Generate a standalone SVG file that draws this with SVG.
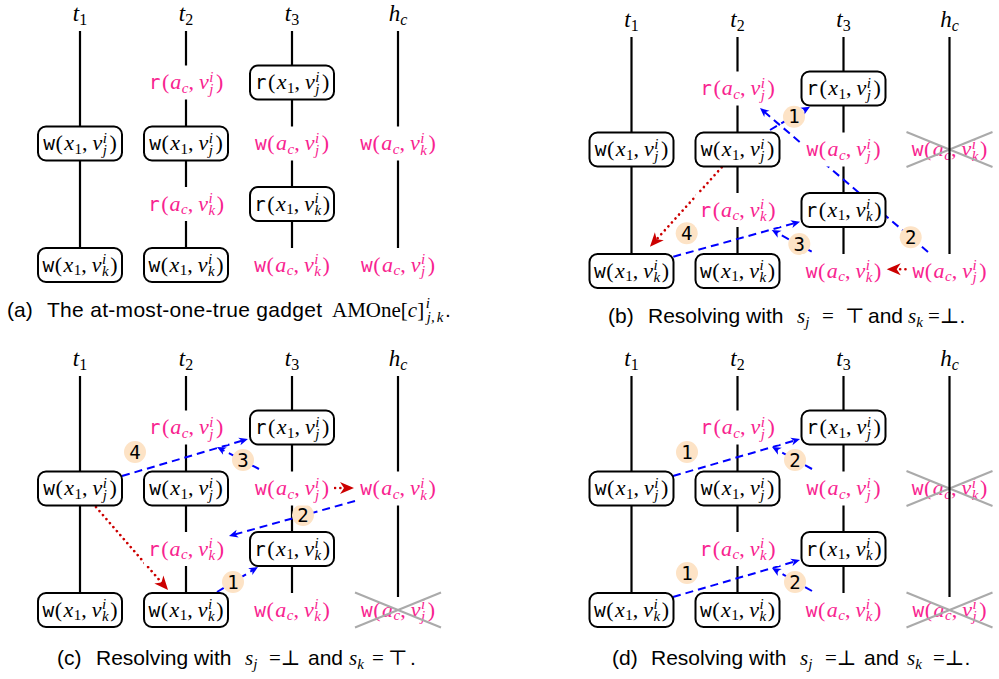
<svg xmlns="http://www.w3.org/2000/svg" width="999" height="679" viewBox="0 0 999 679">
<style>
.tl{stroke:#000;stroke-width:2.2;fill:none}
.bx{fill:#fff;stroke:#000;stroke-width:2}
.bg{fill:#fff}
.lb{font-family:"Liberation Serif","DejaVu Serif",serif;font-size:22px;text-anchor:middle;fill:#000}
.pk{fill:#f8238f}
.tt{font-family:"DejaVu Sans Mono","Liberation Mono",monospace;font-style:normal;font-size:19.5px}
.it{font-style:italic}
.sb{font-size:15px}
.ttl{font-family:"Liberation Serif","DejaVu Serif",serif;font-style:italic;font-size:23px;text-anchor:middle;fill:#000}
.ts{font-size:16px;font-style:normal}
.tsi{font-size:16px}
.bl{stroke:#0000ff;stroke-width:2;stroke-dasharray:8 5;fill:none;marker-end:url(#ab)}
.rd{stroke:#cc0000;stroke-width:2.6;stroke-dasharray:0.1 5.2;stroke-linecap:round;fill:none;marker-end:url(#ar)}
.xx{stroke:#aaa;stroke-width:2}
.nc{fill:#fde3c6}
.nt{font-family:"DejaVu Sans Mono",monospace;font-size:19px;text-anchor:middle;fill:#000}
.cap{font-family:"Liberation Sans",Arial,sans-serif;font-size:21px;fill:#000}
.mr{font-family:"Liberation Serif","DejaVu Serif",serif}
.mi{font-family:"Liberation Serif","DejaVu Serif",serif;font-style:italic}
.cs{font-size:15px}
</style>
<defs>
<marker id="ab" viewBox="-12 -6 14 12" refX="-5" refY="0" markerWidth="14" markerHeight="12" markerUnits="userSpaceOnUse" orient="auto"><path d="M0,0 L-9,-4 L-6.5,0 L-9,4 Z" fill="#0000ff"/></marker>
<marker id="ar" viewBox="-16 -8 18 16" refX="-8" refY="0" markerWidth="18" markerHeight="16" markerUnits="userSpaceOnUse" orient="auto"><path d="M0,0 L-14,-6 L-10,0 L-14,6 Z" fill="#cc0000"/></marker>
</defs>
<rect width="999" height="679" fill="#fff"/>

<!-- ===================== PANEL A ===================== -->
<g id="panel-a">
<g id="a-titles">
<text class="ttl" x="80" y="20.5">t<tspan class="ts" dy="4">1</tspan></text>
<text class="ttl" x="186" y="20.5">t<tspan class="ts" dy="4">2</tspan></text>
<text class="ttl" x="292" y="20.5">t<tspan class="ts" dy="4">3</tspan></text>
<text class="ttl" x="398" y="20.5">h<tspan class="tsi" dy="4">c</tspan></text>
</g>
<g id="a-timelines">
<line class="tl" x1="80" y1="31" x2="80" y2="248"/>
<line class="tl" x1="186" y1="31" x2="186" y2="248"/>
<line class="tl" x1="292" y1="31" x2="292" y2="248"/>
<line class="tl" x1="398" y1="31" x2="398" y2="248"/>
</g>
<g id="a-n-t1-wj"><rect class="bx" x="38" y="126.5" width="84" height="34" rx="8"/><text class="lb" x="80" y="150"><tspan class="tt">w</tspan><tspan dx="0.5">(</tspan><tspan class="it" dx="1.5">x</tspan><tspan class="sb" dx="0.5" dy="3.5">1</tspan><tspan dy="-3.5">,</tspan><tspan class="it" dx="5">v</tspan><tspan class="sb it" dx="0.5" dy="-7.5">i</tspan><tspan class="sb it" dx="-4.2" dy="12">j</tspan><tspan dx="2.5" dy="-4.5">)</tspan></text></g>
<g id="a-n-t1-wk"><rect class="bx" x="38" y="248" width="84" height="34" rx="8"/><text class="lb" x="80" y="271.5"><tspan class="tt">w</tspan><tspan dx="0.5">(</tspan><tspan class="it" dx="1.5">x</tspan><tspan class="sb" dx="0.5" dy="3.5">1</tspan><tspan dy="-3.5">,</tspan><tspan class="it" dx="5">v</tspan><tspan class="sb it" dx="0.5" dy="-7.5">i</tspan><tspan class="sb it" dx="-4.2" dy="12">k</tspan><tspan dx="1.5" dy="-4.5">)</tspan></text></g>
<g id="a-n-t2-raj"><rect class="bg" x="144" y="65.5" width="84" height="34"/><text class="lb pk" x="186" y="89"><tspan class="tt">r</tspan><tspan dx="1.5">(</tspan><tspan class="it" dx="1">a</tspan><tspan class="sb it" dx="0.5" dy="3.5">c</tspan><tspan dy="-3.5">,</tspan><tspan class="it" dx="5">v</tspan><tspan class="sb it" dx="0.5" dy="-7.5">i</tspan><tspan class="sb it" dx="-4.2" dy="12">j</tspan><tspan dx="2.5" dy="-4.5">)</tspan></text></g>
<g id="a-n-t2-wj"><rect class="bx" x="144" y="126.5" width="84" height="34" rx="8"/><text class="lb" x="186" y="150"><tspan class="tt">w</tspan><tspan dx="0.5">(</tspan><tspan class="it" dx="1.5">x</tspan><tspan class="sb" dx="0.5" dy="3.5">1</tspan><tspan dy="-3.5">,</tspan><tspan class="it" dx="5">v</tspan><tspan class="sb it" dx="0.5" dy="-7.5">i</tspan><tspan class="sb it" dx="-4.2" dy="12">j</tspan><tspan dx="2.5" dy="-4.5">)</tspan></text></g>
<g id="a-n-t2-rak"><rect class="bg" x="144" y="187" width="84" height="34"/><text class="lb pk" x="186" y="210.5"><tspan class="tt">r</tspan><tspan dx="1.5">(</tspan><tspan class="it" dx="1">a</tspan><tspan class="sb it" dx="0.5" dy="3.5">c</tspan><tspan dy="-3.5">,</tspan><tspan class="it" dx="5">v</tspan><tspan class="sb it" dx="0.5" dy="-7.5">i</tspan><tspan class="sb it" dx="-4.2" dy="12">k</tspan><tspan dx="1.5" dy="-4.5">)</tspan></text></g>
<g id="a-n-t2-wk"><rect class="bx" x="144" y="248" width="84" height="34" rx="8"/><text class="lb" x="186" y="271.5"><tspan class="tt">w</tspan><tspan dx="0.5">(</tspan><tspan class="it" dx="1.5">x</tspan><tspan class="sb" dx="0.5" dy="3.5">1</tspan><tspan dy="-3.5">,</tspan><tspan class="it" dx="5">v</tspan><tspan class="sb it" dx="0.5" dy="-7.5">i</tspan><tspan class="sb it" dx="-4.2" dy="12">k</tspan><tspan dx="1.5" dy="-4.5">)</tspan></text></g>
<g id="a-n-t3-rj"><rect class="bx" x="250" y="65.5" width="84" height="34" rx="8"/><text class="lb" x="292" y="89"><tspan class="tt">r</tspan><tspan dx="1.5">(</tspan><tspan class="it" dx="1.5">x</tspan><tspan class="sb" dx="0.5" dy="3.5">1</tspan><tspan dy="-3.5">,</tspan><tspan class="it" dx="5">v</tspan><tspan class="sb it" dx="0.5" dy="-7.5">i</tspan><tspan class="sb it" dx="-4.2" dy="12">j</tspan><tspan dx="2.5" dy="-4.5">)</tspan></text></g>
<g id="a-n-t3-waj"><rect class="bg" x="250" y="126.5" width="84" height="34"/><text class="lb pk" x="292" y="150"><tspan class="tt">w</tspan><tspan dx="0.5">(</tspan><tspan class="it" dx="1.5">a</tspan><tspan class="sb it" dx="0.5" dy="3.5">c</tspan><tspan dy="-3.5">,</tspan><tspan class="it" dx="5">v</tspan><tspan class="sb it" dx="0.5" dy="-7.5">i</tspan><tspan class="sb it" dx="-4.2" dy="12">j</tspan><tspan dx="2.5" dy="-4.5">)</tspan></text></g>
<g id="a-n-t3-rk"><rect class="bx" x="250" y="187" width="84" height="34" rx="8"/><text class="lb" x="292" y="210.5"><tspan class="tt">r</tspan><tspan dx="1.5">(</tspan><tspan class="it" dx="1.5">x</tspan><tspan class="sb" dx="0.5" dy="3.5">1</tspan><tspan dy="-3.5">,</tspan><tspan class="it" dx="5">v</tspan><tspan class="sb it" dx="0.5" dy="-7.5">i</tspan><tspan class="sb it" dx="-4.2" dy="12">k</tspan><tspan dx="1.5" dy="-4.5">)</tspan></text></g>
<g id="a-n-t3-wak"><rect class="bg" x="250" y="248" width="84" height="34"/><text class="lb pk" x="292" y="271.5"><tspan class="tt">w</tspan><tspan dx="0.5">(</tspan><tspan class="it" dx="1.5">a</tspan><tspan class="sb it" dx="0.5" dy="3.5">c</tspan><tspan dy="-3.5">,</tspan><tspan class="it" dx="5">v</tspan><tspan class="sb it" dx="0.5" dy="-7.5">i</tspan><tspan class="sb it" dx="-4.2" dy="12">k</tspan><tspan dx="1.5" dy="-4.5">)</tspan></text></g>
<g id="a-n-hc-wak"><rect class="bg" x="356" y="126.5" width="84" height="34"/><text class="lb pk" x="398" y="150"><tspan class="tt">w</tspan><tspan dx="0.5">(</tspan><tspan class="it" dx="1.5">a</tspan><tspan class="sb it" dx="0.5" dy="3.5">c</tspan><tspan dy="-3.5">,</tspan><tspan class="it" dx="5">v</tspan><tspan class="sb it" dx="0.5" dy="-7.5">i</tspan><tspan class="sb it" dx="-4.2" dy="12">k</tspan><tspan dx="1.5" dy="-4.5">)</tspan></text></g>
<g id="a-n-hc-waj"><rect class="bg" x="356" y="248" width="84" height="34"/><text class="lb pk" x="398" y="271.5"><tspan class="tt">w</tspan><tspan dx="0.5">(</tspan><tspan class="it" dx="1.5">a</tspan><tspan class="sb it" dx="0.5" dy="3.5">c</tspan><tspan dy="-3.5">,</tspan><tspan class="it" dx="5">v</tspan><tspan class="sb it" dx="0.5" dy="-7.5">i</tspan><tspan class="sb it" dx="-4.2" dy="12">j</tspan><tspan dx="2.5" dy="-4.5">)</tspan></text></g>
<text id="a-caption" class="cap" y="317"><tspan x="7">(a)</tspan><tspan x="47" textLength="275" lengthAdjust="spacing">The at-most-one-true gadget</tspan><tspan x="332" class="mr">AMOne[</tspan><tspan class="mi">c</tspan><tspan class="mr">]</tspan><tspan class="mi cs" dx="1.5" dy="-9">i</tspan><tspan class="mi cs" dx="-3" dy="14">j,</tspan><tspan class="mi cs" dx="2">k</tspan><tspan dx="1.5" dy="-5">.</tspan></text>
</g>

<!-- ===================== PANEL B ===================== -->
<g id="panel-b">
<g transform="translate(551.5,6)">
<g id="b-titles">
<text class="ttl" x="80" y="20.5">t<tspan class="ts" dy="4">1</tspan></text>
<text class="ttl" x="186" y="20.5">t<tspan class="ts" dy="4">2</tspan></text>
<text class="ttl" x="292" y="20.5">t<tspan class="ts" dy="4">3</tspan></text>
<text class="ttl" x="398" y="20.5">h<tspan class="tsi" dy="4">c</tspan></text>
</g>
<g id="b-n-hc-wak"><text class="lb pk" x="398" y="150"><tspan class="tt">w</tspan><tspan dx="0.5">(</tspan><tspan class="it" dx="1.5">a</tspan><tspan class="sb it" dx="0.5" dy="3.5">c</tspan><tspan dy="-3.5">,</tspan><tspan class="it" dx="5">v</tspan><tspan class="sb it" dx="0.5" dy="-7.5">i</tspan><tspan class="sb it" dx="-4.2" dy="12">k</tspan><tspan dx="1.5" dy="-4.5">)</tspan></text><line class="xx" x1="355" y1="126" x2="441" y2="161"/><line class="xx" x1="355" y1="161" x2="441" y2="126"/></g>
<g id="b-timelines">
<line class="tl" x1="80" y1="31" x2="80" y2="248"/>
<line class="tl" x1="186" y1="31" x2="186" y2="248"/>
<line class="tl" x1="292" y1="31" x2="292" y2="248"/>
<line class="tl" x1="398" y1="31" x2="398" y2="248"/>
</g>
<g id="b-connectors">
<path class="bl" d="M218.5,124 L254.2,103.2"/>
<path class="bl" d="M376.5,246 L212.3,105.3"/>
<path class="bl" d="M260.2,245.7 L224.6,226.4"/>
<path class="bl" d="M121.8,250.7 L243.7,217"/>
<path class="rd" d="M170.2,161.3 L103.8,234.8"/>
<path class="rd" d="M354,263.3 L343.2,263.3"/>
<circle class="nc" cx="242.5" cy="110.7" r="11"/><text class="nt" x="242.5" y="117.4">1</text>
<circle class="nc" cx="359.2" cy="231.3" r="11"/><text class="nt" x="359.2" y="238">2</text>
<circle class="nc" cx="247.8" cy="238" r="11"/><text class="nt" x="247.8" y="244.7">3</text>
<circle class="nc" cx="135.2" cy="227.3" r="11"/><text class="nt" x="135.2" y="234">4</text>
</g>
<g id="b-n-t1-wj"><rect class="bx" x="38" y="126.5" width="84" height="34" rx="8"/><text class="lb" x="80" y="150"><tspan class="tt">w</tspan><tspan dx="0.5">(</tspan><tspan class="it" dx="1.5">x</tspan><tspan class="sb" dx="0.5" dy="3.5">1</tspan><tspan dy="-3.5">,</tspan><tspan class="it" dx="5">v</tspan><tspan class="sb it" dx="0.5" dy="-7.5">i</tspan><tspan class="sb it" dx="-4.2" dy="12">j</tspan><tspan dx="2.5" dy="-4.5">)</tspan></text></g>
<g id="b-n-t1-wk"><rect class="bx" x="38" y="248" width="84" height="34" rx="8"/><text class="lb" x="80" y="271.5"><tspan class="tt">w</tspan><tspan dx="0.5">(</tspan><tspan class="it" dx="1.5">x</tspan><tspan class="sb" dx="0.5" dy="3.5">1</tspan><tspan dy="-3.5">,</tspan><tspan class="it" dx="5">v</tspan><tspan class="sb it" dx="0.5" dy="-7.5">i</tspan><tspan class="sb it" dx="-4.2" dy="12">k</tspan><tspan dx="1.5" dy="-4.5">)</tspan></text></g>
<g id="b-n-t2-raj"><rect class="bg" x="144" y="65.5" width="84" height="34"/><text class="lb pk" x="186" y="89"><tspan class="tt">r</tspan><tspan dx="1.5">(</tspan><tspan class="it" dx="1">a</tspan><tspan class="sb it" dx="0.5" dy="3.5">c</tspan><tspan dy="-3.5">,</tspan><tspan class="it" dx="5">v</tspan><tspan class="sb it" dx="0.5" dy="-7.5">i</tspan><tspan class="sb it" dx="-4.2" dy="12">j</tspan><tspan dx="2.5" dy="-4.5">)</tspan></text></g>
<g id="b-n-t2-wj"><rect class="bx" x="144" y="126.5" width="84" height="34" rx="8"/><text class="lb" x="186" y="150"><tspan class="tt">w</tspan><tspan dx="0.5">(</tspan><tspan class="it" dx="1.5">x</tspan><tspan class="sb" dx="0.5" dy="3.5">1</tspan><tspan dy="-3.5">,</tspan><tspan class="it" dx="5">v</tspan><tspan class="sb it" dx="0.5" dy="-7.5">i</tspan><tspan class="sb it" dx="-4.2" dy="12">j</tspan><tspan dx="2.5" dy="-4.5">)</tspan></text></g>
<g id="b-n-t2-rak"><rect class="bg" x="144" y="187" width="84" height="34"/><text class="lb pk" x="186" y="210.5"><tspan class="tt">r</tspan><tspan dx="1.5">(</tspan><tspan class="it" dx="1">a</tspan><tspan class="sb it" dx="0.5" dy="3.5">c</tspan><tspan dy="-3.5">,</tspan><tspan class="it" dx="5">v</tspan><tspan class="sb it" dx="0.5" dy="-7.5">i</tspan><tspan class="sb it" dx="-4.2" dy="12">k</tspan><tspan dx="1.5" dy="-4.5">)</tspan></text></g>
<g id="b-n-t2-wk"><rect class="bx" x="144" y="248" width="84" height="34" rx="8"/><text class="lb" x="186" y="271.5"><tspan class="tt">w</tspan><tspan dx="0.5">(</tspan><tspan class="it" dx="1.5">x</tspan><tspan class="sb" dx="0.5" dy="3.5">1</tspan><tspan dy="-3.5">,</tspan><tspan class="it" dx="5">v</tspan><tspan class="sb it" dx="0.5" dy="-7.5">i</tspan><tspan class="sb it" dx="-4.2" dy="12">k</tspan><tspan dx="1.5" dy="-4.5">)</tspan></text></g>
<g id="b-n-t3-rj"><rect class="bx" x="250" y="65.5" width="84" height="34" rx="8"/><text class="lb" x="292" y="89"><tspan class="tt">r</tspan><tspan dx="1.5">(</tspan><tspan class="it" dx="1.5">x</tspan><tspan class="sb" dx="0.5" dy="3.5">1</tspan><tspan dy="-3.5">,</tspan><tspan class="it" dx="5">v</tspan><tspan class="sb it" dx="0.5" dy="-7.5">i</tspan><tspan class="sb it" dx="-4.2" dy="12">j</tspan><tspan dx="2.5" dy="-4.5">)</tspan></text></g>
<g id="b-n-t3-waj"><rect class="bg" x="250" y="126.5" width="84" height="34"/><text class="lb pk" x="292" y="150"><tspan class="tt">w</tspan><tspan dx="0.5">(</tspan><tspan class="it" dx="1.5">a</tspan><tspan class="sb it" dx="0.5" dy="3.5">c</tspan><tspan dy="-3.5">,</tspan><tspan class="it" dx="5">v</tspan><tspan class="sb it" dx="0.5" dy="-7.5">i</tspan><tspan class="sb it" dx="-4.2" dy="12">j</tspan><tspan dx="2.5" dy="-4.5">)</tspan></text></g>
<g id="b-n-t3-rk"><rect class="bx" x="250" y="187" width="84" height="34" rx="8"/><text class="lb" x="292" y="210.5"><tspan class="tt">r</tspan><tspan dx="1.5">(</tspan><tspan class="it" dx="1.5">x</tspan><tspan class="sb" dx="0.5" dy="3.5">1</tspan><tspan dy="-3.5">,</tspan><tspan class="it" dx="5">v</tspan><tspan class="sb it" dx="0.5" dy="-7.5">i</tspan><tspan class="sb it" dx="-4.2" dy="12">k</tspan><tspan dx="1.5" dy="-4.5">)</tspan></text></g>
<g id="b-n-t3-wak"><rect class="bg" x="250" y="248" width="84" height="34"/><text class="lb pk" x="292" y="271.5"><tspan class="tt">w</tspan><tspan dx="0.5">(</tspan><tspan class="it" dx="1.5">a</tspan><tspan class="sb it" dx="0.5" dy="3.5">c</tspan><tspan dy="-3.5">,</tspan><tspan class="it" dx="5">v</tspan><tspan class="sb it" dx="0.5" dy="-7.5">i</tspan><tspan class="sb it" dx="-4.2" dy="12">k</tspan><tspan dx="1.5" dy="-4.5">)</tspan></text></g>
<g id="b-n-hc-waj"><rect class="bg" x="356" y="248" width="84" height="34"/><text class="lb pk" x="398" y="271.5"><tspan class="tt">w</tspan><tspan dx="0.5">(</tspan><tspan class="it" dx="1.5">a</tspan><tspan class="sb it" dx="0.5" dy="3.5">c</tspan><tspan dy="-3.5">,</tspan><tspan class="it" dx="5">v</tspan><tspan class="sb it" dx="0.5" dy="-7.5">i</tspan><tspan class="sb it" dx="-4.2" dy="12">j</tspan><tspan dx="2.5" dy="-4.5">)</tspan></text></g>
</g>
<text id="b-caption" class="cap" y="323"><tspan x="608">(b)</tspan><tspan x="648">Resolving with</tspan><tspan x="797" class="mi">s</tspan><tspan class="mi cs" dy="4">j</tspan><tspan x="822" dy="-4" class="mr">=</tspan><tspan x="845" class="mr">⊤</tspan><tspan x="868">and</tspan><tspan x="908" class="mi">s</tspan><tspan class="mi cs" dy="4">k</tspan><tspan x="928" dy="-4" class="mr">=⊥</tspan><tspan>.</tspan></text>
</g>

<!-- ===================== PANEL C ===================== -->
<g id="panel-c">
<g transform="translate(0,345)">
<g id="c-titles">
<text class="ttl" x="80" y="20.5">t<tspan class="ts" dy="4">1</tspan></text>
<text class="ttl" x="186" y="20.5">t<tspan class="ts" dy="4">2</tspan></text>
<text class="ttl" x="292" y="20.5">t<tspan class="ts" dy="4">3</tspan></text>
<text class="ttl" x="398" y="20.5">h<tspan class="tsi" dy="4">c</tspan></text>
</g>
<g id="c-n-hc-waj"><text class="lb pk" x="398" y="271.5"><tspan class="tt">w</tspan><tspan dx="0.5">(</tspan><tspan class="it" dx="1.5">a</tspan><tspan class="sb it" dx="0.5" dy="3.5">c</tspan><tspan dy="-3.5">,</tspan><tspan class="it" dx="5">v</tspan><tspan class="sb it" dx="0.5" dy="-7.5">i</tspan><tspan class="sb it" dx="-4.2" dy="12">j</tspan><tspan dx="2.5" dy="-4.5">)</tspan></text><line class="xx" x1="355" y1="247.5" x2="441" y2="282.5"/><line class="xx" x1="355" y1="282.5" x2="441" y2="247.5"/></g>
<g id="c-timelines">
<line class="tl" x1="80" y1="31" x2="80" y2="248"/>
<line class="tl" x1="186" y1="31" x2="186" y2="248"/>
<line class="tl" x1="292" y1="31" x2="292" y2="248"/>
<line class="tl" x1="398" y1="31" x2="398" y2="252"/>
</g>
<g id="c-connectors">
<path class="bl" d="M122,131 L243.2,95.4"/>
<path class="bl" d="M259,124 L221.4,104.3"/>
<path class="rd" d="M335,143 L346,143"/>
<path class="bl" d="M355,156 L233.8,189.7"/>
<path class="bl" d="M217,247 L253.7,224.6"/>
<path class="rd" d="M96,162 L162.8,239"/>
<circle class="nc" cx="135" cy="107" r="11"/><text class="nt" x="135" y="113.7">4</text>
<circle class="nc" cx="243" cy="115" r="11"/><text class="nt" x="243" y="121.7">3</text>
<circle class="nc" cx="303" cy="170" r="11"/><text class="nt" x="303" y="176.7">2</text>
<circle class="nc" cx="233" cy="237" r="11"/><text class="nt" x="233" y="243.7">1</text>
</g>
<g id="c-n-t1-wj"><rect class="bx" x="38" y="126.5" width="84" height="34" rx="8"/><text class="lb" x="80" y="150"><tspan class="tt">w</tspan><tspan dx="0.5">(</tspan><tspan class="it" dx="1.5">x</tspan><tspan class="sb" dx="0.5" dy="3.5">1</tspan><tspan dy="-3.5">,</tspan><tspan class="it" dx="5">v</tspan><tspan class="sb it" dx="0.5" dy="-7.5">i</tspan><tspan class="sb it" dx="-4.2" dy="12">j</tspan><tspan dx="2.5" dy="-4.5">)</tspan></text></g>
<g id="c-n-t1-wk"><rect class="bx" x="38" y="248" width="84" height="34" rx="8"/><text class="lb" x="80" y="271.5"><tspan class="tt">w</tspan><tspan dx="0.5">(</tspan><tspan class="it" dx="1.5">x</tspan><tspan class="sb" dx="0.5" dy="3.5">1</tspan><tspan dy="-3.5">,</tspan><tspan class="it" dx="5">v</tspan><tspan class="sb it" dx="0.5" dy="-7.5">i</tspan><tspan class="sb it" dx="-4.2" dy="12">k</tspan><tspan dx="1.5" dy="-4.5">)</tspan></text></g>
<g id="c-n-t2-raj"><rect class="bg" x="144" y="65.5" width="84" height="34"/><text class="lb pk" x="186" y="89"><tspan class="tt">r</tspan><tspan dx="1.5">(</tspan><tspan class="it" dx="1">a</tspan><tspan class="sb it" dx="0.5" dy="3.5">c</tspan><tspan dy="-3.5">,</tspan><tspan class="it" dx="5">v</tspan><tspan class="sb it" dx="0.5" dy="-7.5">i</tspan><tspan class="sb it" dx="-4.2" dy="12">j</tspan><tspan dx="2.5" dy="-4.5">)</tspan></text></g>
<g id="c-n-t2-wj"><rect class="bx" x="144" y="126.5" width="84" height="34" rx="8"/><text class="lb" x="186" y="150"><tspan class="tt">w</tspan><tspan dx="0.5">(</tspan><tspan class="it" dx="1.5">x</tspan><tspan class="sb" dx="0.5" dy="3.5">1</tspan><tspan dy="-3.5">,</tspan><tspan class="it" dx="5">v</tspan><tspan class="sb it" dx="0.5" dy="-7.5">i</tspan><tspan class="sb it" dx="-4.2" dy="12">j</tspan><tspan dx="2.5" dy="-4.5">)</tspan></text></g>
<g id="c-n-t2-rak"><rect class="bg" x="144" y="187" width="84" height="34"/><text class="lb pk" x="186" y="210.5"><tspan class="tt">r</tspan><tspan dx="1.5">(</tspan><tspan class="it" dx="1">a</tspan><tspan class="sb it" dx="0.5" dy="3.5">c</tspan><tspan dy="-3.5">,</tspan><tspan class="it" dx="5">v</tspan><tspan class="sb it" dx="0.5" dy="-7.5">i</tspan><tspan class="sb it" dx="-4.2" dy="12">k</tspan><tspan dx="1.5" dy="-4.5">)</tspan></text></g>
<g id="c-n-t2-wk"><rect class="bx" x="144" y="248" width="84" height="34" rx="8"/><text class="lb" x="186" y="271.5"><tspan class="tt">w</tspan><tspan dx="0.5">(</tspan><tspan class="it" dx="1.5">x</tspan><tspan class="sb" dx="0.5" dy="3.5">1</tspan><tspan dy="-3.5">,</tspan><tspan class="it" dx="5">v</tspan><tspan class="sb it" dx="0.5" dy="-7.5">i</tspan><tspan class="sb it" dx="-4.2" dy="12">k</tspan><tspan dx="1.5" dy="-4.5">)</tspan></text></g>
<g id="c-n-t3-rj"><rect class="bx" x="250" y="65.5" width="84" height="34" rx="8"/><text class="lb" x="292" y="89"><tspan class="tt">r</tspan><tspan dx="1.5">(</tspan><tspan class="it" dx="1.5">x</tspan><tspan class="sb" dx="0.5" dy="3.5">1</tspan><tspan dy="-3.5">,</tspan><tspan class="it" dx="5">v</tspan><tspan class="sb it" dx="0.5" dy="-7.5">i</tspan><tspan class="sb it" dx="-4.2" dy="12">j</tspan><tspan dx="2.5" dy="-4.5">)</tspan></text></g>
<g id="c-n-t3-waj"><rect class="bg" x="250" y="126.5" width="84" height="34"/><text class="lb pk" x="292" y="150"><tspan class="tt">w</tspan><tspan dx="0.5">(</tspan><tspan class="it" dx="1.5">a</tspan><tspan class="sb it" dx="0.5" dy="3.5">c</tspan><tspan dy="-3.5">,</tspan><tspan class="it" dx="5">v</tspan><tspan class="sb it" dx="0.5" dy="-7.5">i</tspan><tspan class="sb it" dx="-4.2" dy="12">j</tspan><tspan dx="2.5" dy="-4.5">)</tspan></text></g>
<g id="c-n-t3-rk"><rect class="bx" x="250" y="187" width="84" height="34" rx="8"/><text class="lb" x="292" y="210.5"><tspan class="tt">r</tspan><tspan dx="1.5">(</tspan><tspan class="it" dx="1.5">x</tspan><tspan class="sb" dx="0.5" dy="3.5">1</tspan><tspan dy="-3.5">,</tspan><tspan class="it" dx="5">v</tspan><tspan class="sb it" dx="0.5" dy="-7.5">i</tspan><tspan class="sb it" dx="-4.2" dy="12">k</tspan><tspan dx="1.5" dy="-4.5">)</tspan></text></g>
<g id="c-n-t3-wak"><rect class="bg" x="250" y="248" width="84" height="34"/><text class="lb pk" x="292" y="271.5"><tspan class="tt">w</tspan><tspan dx="0.5">(</tspan><tspan class="it" dx="1.5">a</tspan><tspan class="sb it" dx="0.5" dy="3.5">c</tspan><tspan dy="-3.5">,</tspan><tspan class="it" dx="5">v</tspan><tspan class="sb it" dx="0.5" dy="-7.5">i</tspan><tspan class="sb it" dx="-4.2" dy="12">k</tspan><tspan dx="1.5" dy="-4.5">)</tspan></text></g>
<g id="c-n-hc-wak"><rect class="bg" x="356" y="126.5" width="84" height="34"/><text class="lb pk" x="398" y="150"><tspan class="tt">w</tspan><tspan dx="0.5">(</tspan><tspan class="it" dx="1.5">a</tspan><tspan class="sb it" dx="0.5" dy="3.5">c</tspan><tspan dy="-3.5">,</tspan><tspan class="it" dx="5">v</tspan><tspan class="sb it" dx="0.5" dy="-7.5">i</tspan><tspan class="sb it" dx="-4.2" dy="12">k</tspan><tspan dx="1.5" dy="-4.5">)</tspan></text></g>
</g>
<text id="c-caption" class="cap" y="665"><tspan x="57">(c)</tspan><tspan x="96">Resolving with</tspan><tspan x="245" class="mi">s</tspan><tspan class="mi cs" dy="4">j</tspan><tspan x="269" dy="-4" class="mr">=⊥</tspan><tspan x="308">and</tspan><tspan x="349" class="mi">s</tspan><tspan class="mi cs" dy="4">k</tspan><tspan x="372" dy="-4" class="mr">=</tspan><tspan x="388" class="mr">⊤</tspan><tspan x="410">.</tspan></text>
</g>

<!-- ===================== PANEL D ===================== -->
<g id="panel-d">
<g transform="translate(551.5,345)">
<g id="d-titles">
<text class="ttl" x="80" y="20.5">t<tspan class="ts" dy="4">1</tspan></text>
<text class="ttl" x="186" y="20.5">t<tspan class="ts" dy="4">2</tspan></text>
<text class="ttl" x="292" y="20.5">t<tspan class="ts" dy="4">3</tspan></text>
<text class="ttl" x="398" y="20.5">h<tspan class="tsi" dy="4">c</tspan></text>
</g>
<g id="d-n-hc-wak"><text class="lb pk" x="398" y="150"><tspan class="tt">w</tspan><tspan dx="0.5">(</tspan><tspan class="it" dx="1.5">a</tspan><tspan class="sb it" dx="0.5" dy="3.5">c</tspan><tspan dy="-3.5">,</tspan><tspan class="it" dx="5">v</tspan><tspan class="sb it" dx="0.5" dy="-7.5">i</tspan><tspan class="sb it" dx="-4.2" dy="12">k</tspan><tspan dx="1.5" dy="-4.5">)</tspan></text><line class="xx" x1="355" y1="126" x2="441" y2="161"/><line class="xx" x1="355" y1="161" x2="441" y2="126"/></g>
<g id="d-n-hc-waj"><text class="lb pk" x="398" y="271.5"><tspan class="tt">w</tspan><tspan dx="0.5">(</tspan><tspan class="it" dx="1.5">a</tspan><tspan class="sb it" dx="0.5" dy="3.5">c</tspan><tspan dy="-3.5">,</tspan><tspan class="it" dx="5">v</tspan><tspan class="sb it" dx="0.5" dy="-7.5">i</tspan><tspan class="sb it" dx="-4.2" dy="12">j</tspan><tspan dx="2.5" dy="-4.5">)</tspan></text><line class="xx" x1="355" y1="247.5" x2="441" y2="282.5"/><line class="xx" x1="355" y1="282.5" x2="441" y2="247.5"/></g>
<g id="d-timelines">
<line class="tl" x1="80" y1="31" x2="80" y2="248"/>
<line class="tl" x1="186" y1="31" x2="186" y2="248"/>
<line class="tl" x1="292" y1="31" x2="292" y2="248"/>
<line class="tl" x1="398" y1="31" x2="398" y2="252"/>
</g>
<g id="d-connectors">
<path class="bl" d="M121.5,131 L243.7,95.4"/>
<path class="bl" d="M260.5,124 L224.9,104.4"/>
<path class="bl" d="M121.5,252 L243.7,216.4"/>
<path class="bl" d="M260.5,246 L224.8,225.5"/>
<circle class="nc" cx="135.5" cy="107" r="11"/><text class="nt" x="135.5" y="113.7">1</text>
<circle class="nc" cx="243.5" cy="115" r="11"/><text class="nt" x="243.5" y="121.7">2</text>
<circle class="nc" cx="135.5" cy="228" r="11"/><text class="nt" x="135.5" y="234.7">1</text>
<circle class="nc" cx="243.5" cy="237" r="11"/><text class="nt" x="243.5" y="243.7">2</text>
</g>
<g id="d-n-t1-wj"><rect class="bx" x="38" y="126.5" width="84" height="34" rx="8"/><text class="lb" x="80" y="150"><tspan class="tt">w</tspan><tspan dx="0.5">(</tspan><tspan class="it" dx="1.5">x</tspan><tspan class="sb" dx="0.5" dy="3.5">1</tspan><tspan dy="-3.5">,</tspan><tspan class="it" dx="5">v</tspan><tspan class="sb it" dx="0.5" dy="-7.5">i</tspan><tspan class="sb it" dx="-4.2" dy="12">j</tspan><tspan dx="2.5" dy="-4.5">)</tspan></text></g>
<g id="d-n-t1-wk"><rect class="bx" x="38" y="248" width="84" height="34" rx="8"/><text class="lb" x="80" y="271.5"><tspan class="tt">w</tspan><tspan dx="0.5">(</tspan><tspan class="it" dx="1.5">x</tspan><tspan class="sb" dx="0.5" dy="3.5">1</tspan><tspan dy="-3.5">,</tspan><tspan class="it" dx="5">v</tspan><tspan class="sb it" dx="0.5" dy="-7.5">i</tspan><tspan class="sb it" dx="-4.2" dy="12">k</tspan><tspan dx="1.5" dy="-4.5">)</tspan></text></g>
<g id="d-n-t2-raj"><rect class="bg" x="144" y="65.5" width="84" height="34"/><text class="lb pk" x="186" y="89"><tspan class="tt">r</tspan><tspan dx="1.5">(</tspan><tspan class="it" dx="1">a</tspan><tspan class="sb it" dx="0.5" dy="3.5">c</tspan><tspan dy="-3.5">,</tspan><tspan class="it" dx="5">v</tspan><tspan class="sb it" dx="0.5" dy="-7.5">i</tspan><tspan class="sb it" dx="-4.2" dy="12">j</tspan><tspan dx="2.5" dy="-4.5">)</tspan></text></g>
<g id="d-n-t2-wj"><rect class="bx" x="144" y="126.5" width="84" height="34" rx="8"/><text class="lb" x="186" y="150"><tspan class="tt">w</tspan><tspan dx="0.5">(</tspan><tspan class="it" dx="1.5">x</tspan><tspan class="sb" dx="0.5" dy="3.5">1</tspan><tspan dy="-3.5">,</tspan><tspan class="it" dx="5">v</tspan><tspan class="sb it" dx="0.5" dy="-7.5">i</tspan><tspan class="sb it" dx="-4.2" dy="12">j</tspan><tspan dx="2.5" dy="-4.5">)</tspan></text></g>
<g id="d-n-t2-rak"><rect class="bg" x="144" y="187" width="84" height="34"/><text class="lb pk" x="186" y="210.5"><tspan class="tt">r</tspan><tspan dx="1.5">(</tspan><tspan class="it" dx="1">a</tspan><tspan class="sb it" dx="0.5" dy="3.5">c</tspan><tspan dy="-3.5">,</tspan><tspan class="it" dx="5">v</tspan><tspan class="sb it" dx="0.5" dy="-7.5">i</tspan><tspan class="sb it" dx="-4.2" dy="12">k</tspan><tspan dx="1.5" dy="-4.5">)</tspan></text></g>
<g id="d-n-t2-wk"><rect class="bx" x="144" y="248" width="84" height="34" rx="8"/><text class="lb" x="186" y="271.5"><tspan class="tt">w</tspan><tspan dx="0.5">(</tspan><tspan class="it" dx="1.5">x</tspan><tspan class="sb" dx="0.5" dy="3.5">1</tspan><tspan dy="-3.5">,</tspan><tspan class="it" dx="5">v</tspan><tspan class="sb it" dx="0.5" dy="-7.5">i</tspan><tspan class="sb it" dx="-4.2" dy="12">k</tspan><tspan dx="1.5" dy="-4.5">)</tspan></text></g>
<g id="d-n-t3-rj"><rect class="bx" x="250" y="65.5" width="84" height="34" rx="8"/><text class="lb" x="292" y="89"><tspan class="tt">r</tspan><tspan dx="1.5">(</tspan><tspan class="it" dx="1.5">x</tspan><tspan class="sb" dx="0.5" dy="3.5">1</tspan><tspan dy="-3.5">,</tspan><tspan class="it" dx="5">v</tspan><tspan class="sb it" dx="0.5" dy="-7.5">i</tspan><tspan class="sb it" dx="-4.2" dy="12">j</tspan><tspan dx="2.5" dy="-4.5">)</tspan></text></g>
<g id="d-n-t3-waj"><rect class="bg" x="250" y="126.5" width="84" height="34"/><text class="lb pk" x="292" y="150"><tspan class="tt">w</tspan><tspan dx="0.5">(</tspan><tspan class="it" dx="1.5">a</tspan><tspan class="sb it" dx="0.5" dy="3.5">c</tspan><tspan dy="-3.5">,</tspan><tspan class="it" dx="5">v</tspan><tspan class="sb it" dx="0.5" dy="-7.5">i</tspan><tspan class="sb it" dx="-4.2" dy="12">j</tspan><tspan dx="2.5" dy="-4.5">)</tspan></text></g>
<g id="d-n-t3-rk"><rect class="bx" x="250" y="187" width="84" height="34" rx="8"/><text class="lb" x="292" y="210.5"><tspan class="tt">r</tspan><tspan dx="1.5">(</tspan><tspan class="it" dx="1.5">x</tspan><tspan class="sb" dx="0.5" dy="3.5">1</tspan><tspan dy="-3.5">,</tspan><tspan class="it" dx="5">v</tspan><tspan class="sb it" dx="0.5" dy="-7.5">i</tspan><tspan class="sb it" dx="-4.2" dy="12">k</tspan><tspan dx="1.5" dy="-4.5">)</tspan></text></g>
<g id="d-n-t3-wak"><rect class="bg" x="250" y="248" width="84" height="34"/><text class="lb pk" x="292" y="271.5"><tspan class="tt">w</tspan><tspan dx="0.5">(</tspan><tspan class="it" dx="1.5">a</tspan><tspan class="sb it" dx="0.5" dy="3.5">c</tspan><tspan dy="-3.5">,</tspan><tspan class="it" dx="5">v</tspan><tspan class="sb it" dx="0.5" dy="-7.5">i</tspan><tspan class="sb it" dx="-4.2" dy="12">k</tspan><tspan dx="1.5" dy="-4.5">)</tspan></text></g>
</g>
<text id="d-caption" class="cap" y="665"><tspan x="612">(d)</tspan><tspan x="651">Resolving with</tspan><tspan x="800" class="mi">s</tspan><tspan class="mi cs" dy="4">j</tspan><tspan x="825" dy="-4" class="mr">=⊥</tspan><tspan x="864">and</tspan><tspan x="907" class="mi">s</tspan><tspan class="mi cs" dy="4">k</tspan><tspan x="933" dy="-4" class="mr">=⊥</tspan><tspan>.</tspan></text>
</g>
</svg>
